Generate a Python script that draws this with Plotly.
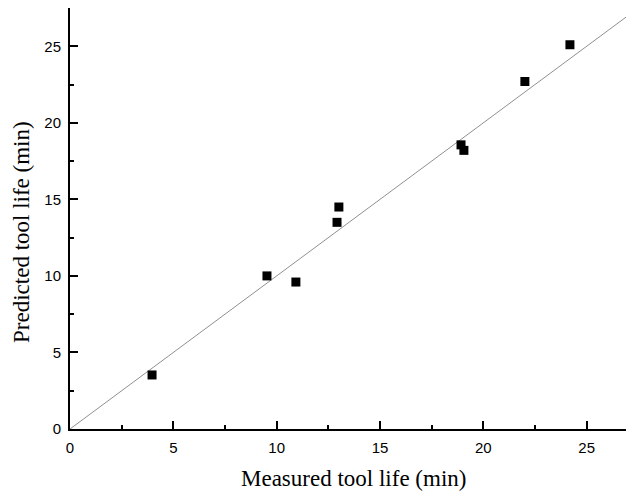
import plotly.graph_objects as go

measured = [3.97, 9.53, 10.93, 12.92, 13.01, 18.92, 19.06, 22.01, 24.19]
predicted = [3.53, 10.0, 9.6, 13.5, 14.5, 18.56, 18.2, 22.7, 25.1]
line_x = [0, 27.3]
line_y = [0, 27.3]
x_title = "Measured tool life (min)"
y_title = "Predicted tool life (min)"

fig = go.Figure()
fig.add_trace(go.Scatter(x=line_x, y=line_y, mode="lines",
                         line=dict(color="#909090", width=1), showlegend=False))
fig.add_trace(go.Scatter(x=measured, y=predicted, mode="markers",
                         marker=dict(symbol="square", size=9, color="black"),
                         showlegend=False))

axis_common = dict(showgrid=False, zeroline=False, showline=True, linecolor="black",
                   linewidth=2, ticks="inside", ticklen=8, tickwidth=2, tickcolor="black",
                   automargin=False, ticklabelstandoff=4,
                   tickfont=dict(family="Liberation Sans, Arial", size=15, color="black"),
                   minor=dict(ticks="inside", ticklen=4, tickwidth=2, tickcolor="black", dtick=2.5))

fig.update_xaxes(range=[0, 27.29], tick0=0, dtick=5, mirror=True, **axis_common)
fig.update_yaxes(range=[0, 27.5], tick0=0, dtick=5, **axis_common)

title_font = dict(family="Liberation Serif, Times New Roman", size=23, color="black")
fig.add_annotation(text=x_title, xref="paper", yref="paper", x=0.502, y=-0.1164,
                   xanchor="center", yanchor="middle", showarrow=False, font=title_font)
fig.add_annotation(text=y_title, xref="paper", yref="paper", x=-0.0851, y=0.468,
                   xanchor="center", yanchor="middle", textangle=-90, showarrow=False,
                   font=title_font)

# page body has an 8px default margin; compensate so the chart lands where the reference does
fig.update_layout(width=626, height=485, margin=dict(l=62, r=0, t=0, b=64),
                  plot_bgcolor="white", paper_bgcolor="white")
fig.write_html("out.html")
